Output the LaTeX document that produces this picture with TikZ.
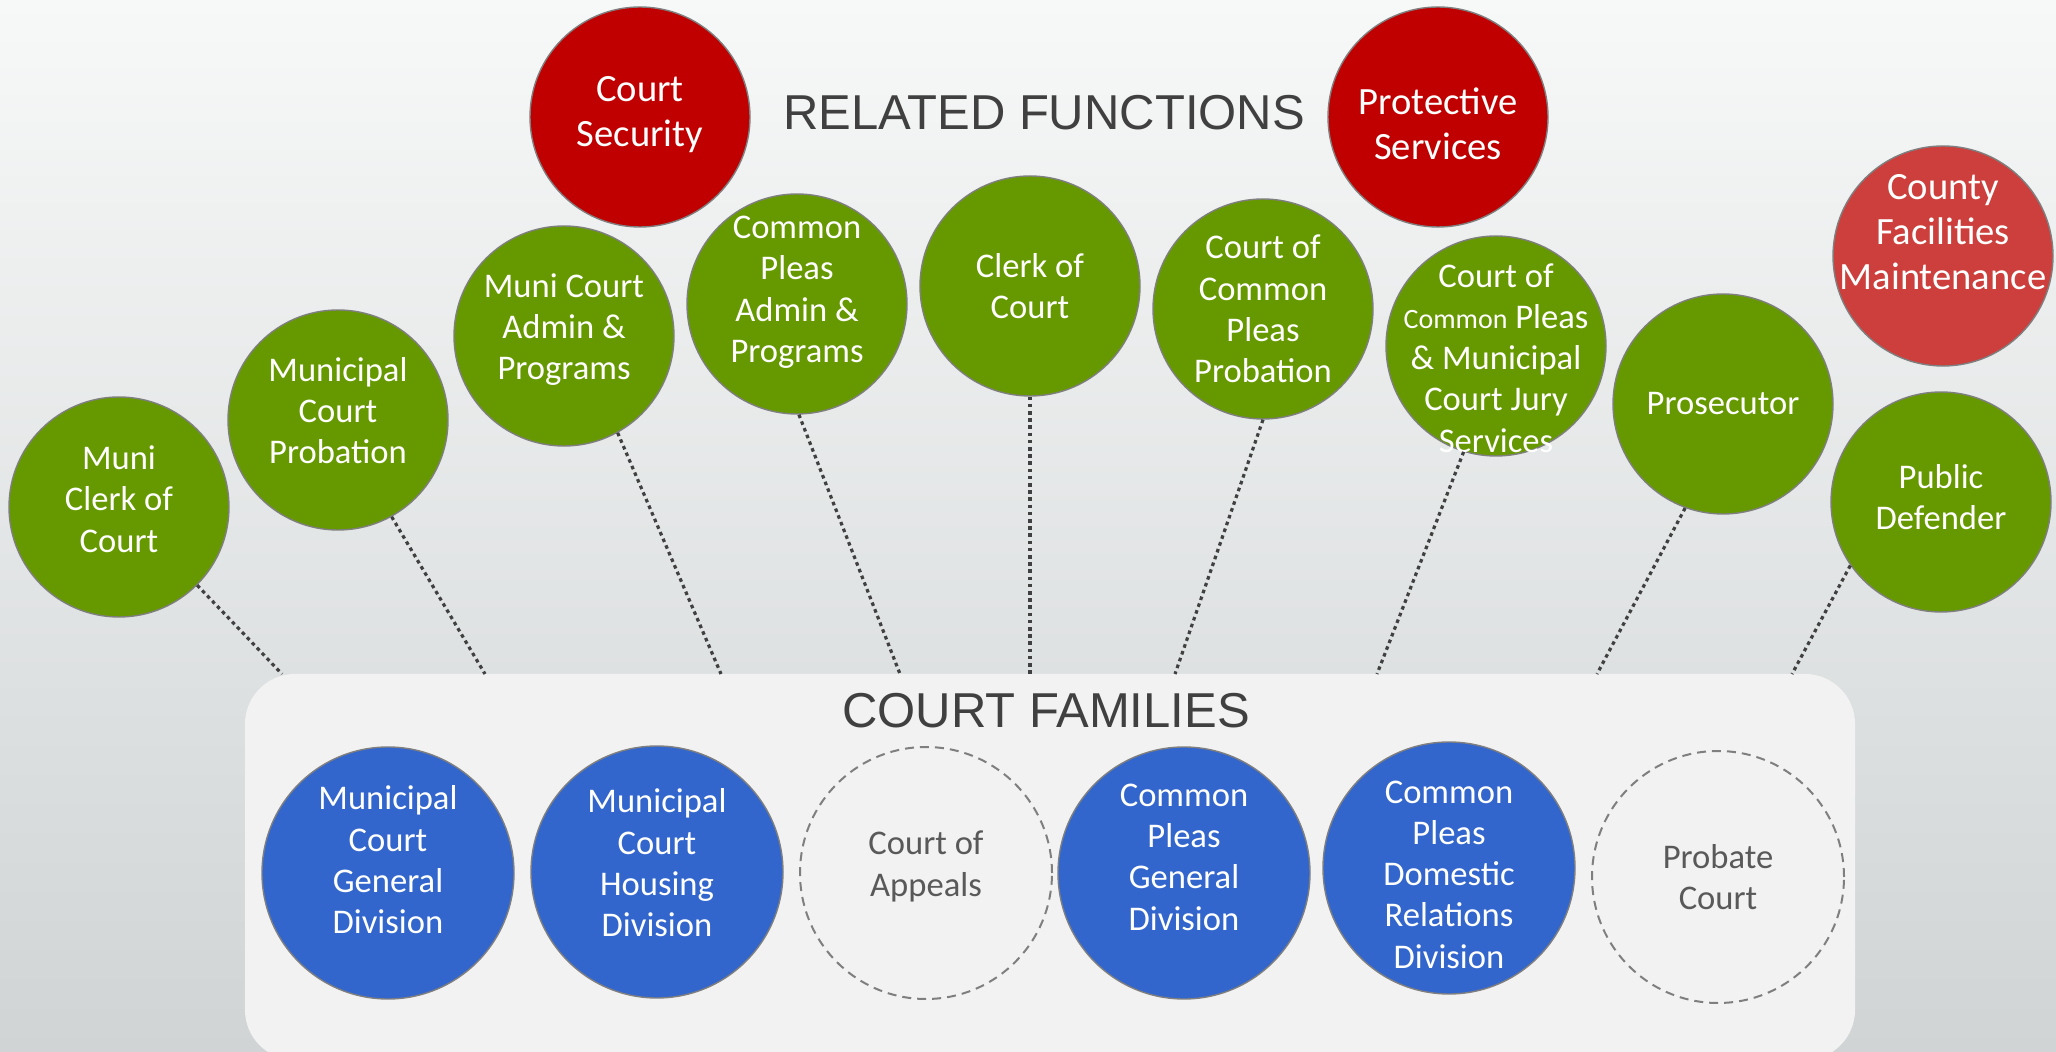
\documentclass[tikz,border=0pt]{standalone}
\usepackage{fontspec}
\setmainfont{Carlito}
\newfontfamily\headfont{Liberation Sans}
\usetikzlibrary{calc}
\usepackage{xcolor}

\definecolor{leaf}{HTML}{669900}
\definecolor{alarm}{HTML}{C00000}
\definecolor{alarmsoft}{HTML}{CC3F3C}
\definecolor{court}{HTML}{3366CC}
\definecolor{rim}{HTML}{7F7F7F}
\definecolor{panel}{HTML}{F2F2F2}
\definecolor{ink}{HTML}{404040}
\definecolor{dimtext}{HTML}{595959}
\definecolor{bgtop}{HTML}{F7F8F8}
\definecolor{bgbot}{HTML}{D0D4D5}

\begin{document}
\begin{tikzpicture}[x=0.5pt,y=-0.5pt,
  fn/.style={circle,draw=rim,line width=0.7pt,fill=leaf,minimum size=110pt,inner sep=0pt},
  rel/.style={fn,fill=alarm},
  fam/.style={circle,draw=rim,line width=0.7pt,fill=court,minimum size=126pt,inner sep=0pt},
  ghost/.style={circle,draw=rim,dash pattern=on 4.5pt off 3pt,line width=1pt,fill=panel,minimum size=126pt,inner sep=0pt},
  lbl/.style={text=white,align=center,font=\fontsize{17.3}{20.6}\selectfont},
  biglbl/.style={lbl,font=\fontsize{19.3}{22.6}\selectfont},
  greylbl/.style={lbl,text=dimtext},
  heading/.style={text=ink,font=\headfont\fontsize{24.5}{28}\selectfont},
  link/.style={draw=ink,line width=1.6pt,dash pattern=on 1.8pt off 1.8pt}
  ]
  \useasboundingbox (0,0) rectangle (2056,1052);
  \clip (0,0) rectangle (2056,1052);
  \shade[top color=bgtop,bottom color=bgbot] (0,0) rectangle (2056,1052);

  % court families panel
  \fill[panel,rounded corners=25pt] (245,674) rectangle (1855,1060);
  \node[heading] (famhead) at (1046,711) {COURT FAMILIES};

  \node[fam,label={[lbl,yshift=6.6pt]center:Municipal\\Court\\General\\Division}] (mgen) at (388,873) {};
  \node[fam,label={[lbl,yshift=4.6pt]center:Municipal\\Court\\Housing\\Division}] (mhouse) at (657,872) {};
  \node[ghost,label={[greylbl,yshift=3.3pt]center:Court of\\Appeals}] (appeals) at (926,873) {};
  \node[fam,label={[lbl,yshift=7.9pt]center:Common\\Pleas\\General\\Division}] (cpgen) at (1184,873) {};
  \node[fam,label={[lbl,yshift=-3.3pt]center:Common\\Pleas\\Domestic\\Relations\\Division}] (cpdom) at (1449,868) {};
  \node[ghost,label={[greylbl]center:Probate\\Court}] (probate) at (1718,877) {};

  % related functions
  \node[heading] (relhead) at (1044,113) {RELATED FUNCTIONS};
  \node[rel,label={[biglbl,yshift=1.3pt]center:Court\\Security}] (security) at (640,117) {};
  \node[rel,label={[biglbl,yshift=-3.3pt]center:Protective\\Services}] (protect) at (1438,117) {};
  \node[rel,fill=alarmsoft,label={[biglbl,yshift=11.8pt]center:County\\Facilities\\Maintenance}] (facilities) at (1943,256) {};

  \node[fn,label={[lbl,yshift=3.9pt]center:Muni\\Clerk of\\Court}] (mclerk) at (119,507) {};
  \node[fn,label={[lbl,yshift=4.6pt]center:Municipal\\Court\\Probation}] (mprob) at (338,420) {};
  \node[fn,label={[lbl,yshift=3.3pt]center:Muni Court\\Admin \&\\Programs}] (madmin) at (564,336) {};
  \node[fn,label={[lbl,yshift=5.9pt]center:Common\\Pleas\\Admin \&\\Programs}] (cpadmin) at (797,304) {};
  \node[fn,label={[lbl]center:Clerk of\\Court}] (clerk) at (1030,286) {};
  \node[fn,label={[lbl]center:Court of\\Common\\Pleas\\Probation}] (cpprob) at (1263,309) {};
  \node[fn,label={[lbl,yshift=-6pt]center:Court of\\{\fontsize{14}{20.6}\selectfont Common} Pleas\\\& Municipal\\Court Jury\\Services}] (jury) at (1496,346) {};
  \node[fn,label={[lbl]center:Prosecutor}] (prosec) at (1723,404) {};
  \node[fn,label={[lbl,yshift=2.6pt]center:Public\\Defender}] (defender) at (1941,502) {};

  % ends on the panel top
  \coordinate (e1) at (282,674);
  \coordinate (e2) at (485,674);
  \coordinate (e3) at (721,674);
  \coordinate (e4) at (900,674);
  \coordinate (e5) at (1030,674);
  \coordinate (e6) at (1175,674);
  \coordinate (e7) at (1377,674);
  \coordinate (e8) at (1597,674);
  \coordinate (e9) at (1792,674);

  \path[link]
    (mclerk.-45) edge (e1)
    (mprob.-61) edge (e2)
    (madmin.-61) edge (e3)
    (cpadmin.-89) edge (e4)
    (clerk.-90) edge (e5)
    (cpprob.-90) edge (e6)
    (jury.-107) edge (e7)
    (prosec.-110) edge (e8)
    (defender.-145) edge (e9);
\end{tikzpicture}
\end{document}
